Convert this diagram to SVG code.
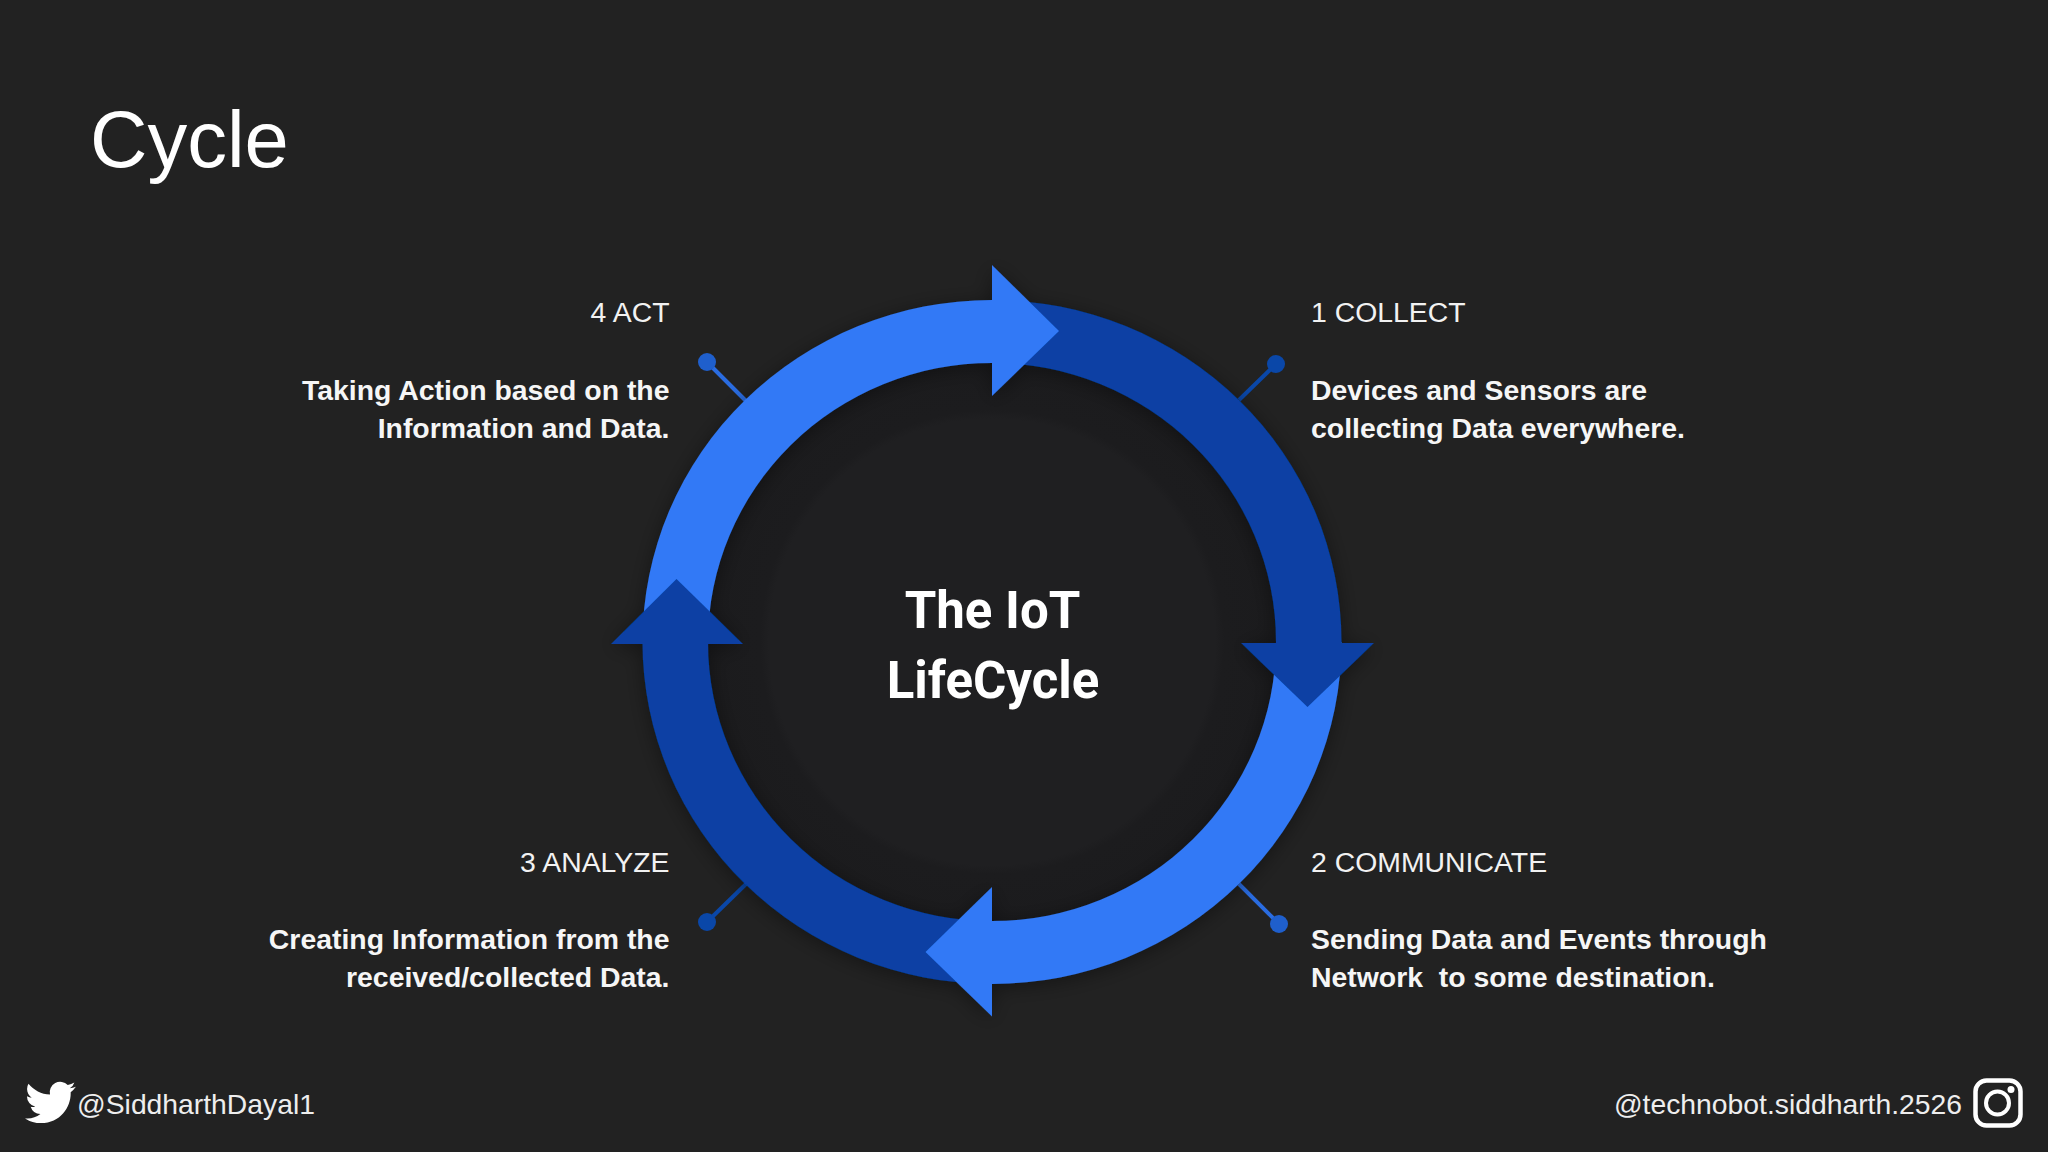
<svg xmlns="http://www.w3.org/2000/svg" width="2048" height="1152" viewBox="0 0 2048 1152">
<style>
.lt{fill:#3079f6}
.dk{fill:#0741a4}
.ltl{stroke:#2a6ce0;stroke-width:4;fill:none}
.dkl{stroke:#0a47a8;stroke-width:4;fill:none}
text{font-family:"Liberation Sans",Arial,sans-serif;fill:#fff}
.h{font-size:28.4px;fill:#f2f2f2}
.b{font-size:28.4px;font-weight:700;fill:#f6f6f6}
.e{text-anchor:end}
.c{font-family:Roboto,"Liberation Sans",sans-serif;font-size:51px;font-weight:700;text-anchor:middle}
.f{font-size:28.3px;fill:#eeeeee}
</style>
<defs>
<filter id="sh" x="-20%" y="-20%" width="140%" height="140%"><feDropShadow dx="0" dy="3" stdDeviation="10" flood-color="#000" flood-opacity="0.4"/></filter>
<radialGradient id="disc" cx="992" cy="642" r="290" gradientUnits="userSpaceOnUse">
<stop offset="0" stop-color="#1f1f21"/><stop offset="0.77" stop-color="#1f1f21"/><stop offset="0.8" stop-color="#1c1c1e"/><stop offset="1" stop-color="#1b1b1d"/>
</radialGradient>
</defs>
<rect width="2048" height="1152" fill="#222222"/>
<text x="90" y="167" font-size="79.5">Cycle</text>
<g id="connectors">
<path class="ltl" d="M707 362L746 401"/><circle cx="707" cy="362" r="9" fill="#1f5fcc"/>
<path class="dkl" d="M1276 364L1239 400"/><circle cx="1276" cy="364" r="9" fill="#0a47a8"/>
<path class="dkl" d="M707 922L746 884"/><circle cx="707" cy="922" r="9" fill="#0a47a8"/>
<path class="ltl" d="M1279 924L1239 884"/><circle cx="1279" cy="924" r="9" fill="#1f5fcc"/>
</g>
<g id="hub">
<ellipse cx="992" cy="642" rx="290" ry="285" fill="url(#disc)"/>
<text class="c" x="992.500" y="628">The IoT</text>
<text class="c" x="993" y="698">LifeCycle</text>
</g>
<g id="ring" filter="url(#sh)">
<path class="lt" d="M1341.5 642A349.5 342 0 0 1 992 984L992 921A284 279 0 0 0 1276 642Z"/>
<path class="dk" d="M992 300A349.5 342 0 0 1 1341.5 642L1341.5 650L1276 650L1276 642A284 279 0 0 0 992 363Z"/>
<path class="dk" d="M992 984A349.5 342 0 0 1 642.500 642L708 642A284 279 0 0 0 992 921Z"/>
<path class="lt" d="M642.500 642A349.5 342 0 0 1 992 300L992 363A284 279 0 0 0 708 642Z"/>
<polygon class="lt" points="992,265 1059,331 992,396"/>
<polygon class="dk" points="1241,643 1374,643 1307.500,707"/>
<polygon class="lt" points="992,887 925.500,952 992,1016.500"/>
<polygon class="dk" points="611,644 743,644 676.500,579"/>
</g>
<g id="act">
<text class="h e" x="669.500" y="322">4 ACT</text>
<text class="b e" x="669.500" y="400">Taking Action based on the</text>
<text class="b e" x="669.500" y="438">Information and Data.</text>
</g>
<g id="collect">
<text class="h" x="1311" y="322">1 COLLECT</text>
<text class="b" x="1311" y="400">Devices and Sensors are</text>
<text class="b" x="1311" y="438">collecting Data everywhere.</text>
</g>
<g id="analyze">
<text class="h e" x="669.500" y="872">3 ANALYZE</text>
<text class="b e" x="669.500" y="949">Creating Information from the</text>
<text class="b e" x="669.500" y="987">received/collected Data.</text>
</g>
<g id="communicate">
<text class="h" x="1311" y="872">2 COMMUNICATE</text>
<text class="b" x="1311" y="949">Sending Data and Events through</text>
<text class="b" x="1311" y="987" xml:space="preserve">Network  to some destination.</text>
</g>
<g id="footer">
<path fill="#fff" transform="translate(25 1077) scale(2.12)" d="M23.953 4.57a10 10 0 01-2.825.775 4.958 4.958 0 002.163-2.723c-.951.555-2.005.959-3.127 1.184a4.92 4.92 0 00-8.384 4.482C7.69 8.095 4.067 6.13 1.64 3.162a4.822 4.822 0 00-.666 2.475c0 1.71.87 3.213 2.188 4.096a4.904 4.904 0 01-2.228-.616v.06a4.923 4.923 0 003.946 4.827 4.996 4.996 0 01-2.212.085 4.936 4.936 0 004.604 3.417 9.867 9.867 0 01-6.102 2.105c-.39 0-.779-.023-1.17-.067a13.995 13.995 0 007.557 2.209c9.053 0 13.998-7.496 13.998-13.985 0-.21 0-.42-.015-.63A9.935 9.935 0 0024 4.59z"/>
<text class="f" x="77" y="1114">@SiddharthDayal1</text>
<text class="f e" x="1962" y="1114">@technobot.siddharth.2526</text>
<rect x="1975.500" y="1080.500" width="45" height="45" rx="11" fill="none" stroke="#fff" stroke-width="4.500"/>
<circle cx="1997.500" cy="1103" r="11.500" fill="none" stroke="#fff" stroke-width="4"/>
<circle cx="2011" cy="1089.500" r="3.500" fill="#fff"/>
</g>
</svg>
